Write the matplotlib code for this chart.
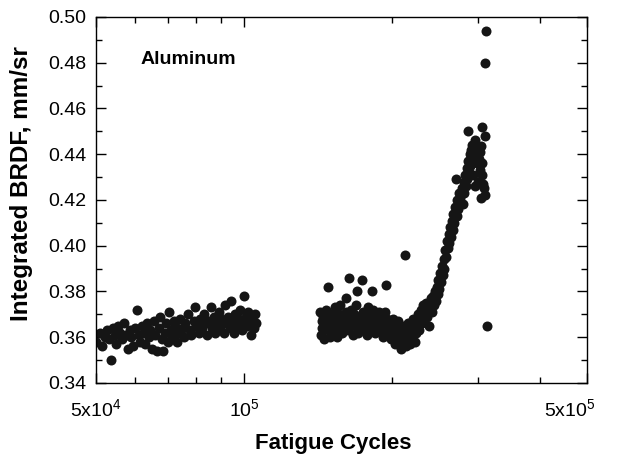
import numpy as np
import matplotlib
matplotlib.use('Agg')
import matplotlib.pyplot as plt
import matplotlib.transforms as mtransforms
from matplotlib.ticker import FixedLocator, NullFormatter

plt.rcParams['font.family'] = 'Liberation Sans'
plt.rcParams['mathtext.fontset'] = 'custom'
plt.rcParams['mathtext.rm'] = 'Liberation Sans'

# Early cycles, 5e4 to ~1.07e5 (thousands of cycles, integrated BRDF)
early_k = [50.0, 51.0, 51.5, 52.0, 52.5, 53.0, 53.5, 54.0, 54.5, 55.0, 55.5, 56.0, 56.5, 57.0,
           57.5, 58.0, 58.5, 59.0, 59.5, 60.0, 60.5, 61.0, 61.5, 62.0, 62.5, 63.0, 63.5, 64.0,
           64.5, 65.0, 65.5, 66.0, 66.5, 67.0, 67.5, 68.0, 68.5, 69.0, 69.5, 70.0, 70.5, 71.0,
           71.5, 72.0, 72.5, 73.0, 73.5, 74.0, 75.0, 75.5, 76.0, 77.0, 77.5, 78.0, 79.0, 79.5,
           80.0, 81.0, 81.5, 82.0, 83.0, 83.5, 84.0, 85.0, 85.5, 86.0, 87.0, 87.5, 88.0, 89.0,
           89.5, 90.0, 91.0, 91.5, 92.0, 93.0, 93.5, 94.0, 95.0, 95.5, 96.0, 97.0, 97.5, 98.0,
           99.0, 99.5, 100.0, 101.0, 101.5, 102.0, 103.0, 103.5, 104.0, 105.0, 105.5, 106.0]
early_brdf = [0.358, 0.362, 0.356, 0.360, 0.363, 0.359, 0.350, 0.364, 0.361, 0.357, 0.365, 0.362,
              0.359, 0.366, 0.361, 0.355, 0.363, 0.360, 0.356, 0.364, 0.372, 0.361, 0.358, 0.365,
              0.362, 0.357, 0.366, 0.360, 0.363, 0.355, 0.367, 0.361, 0.354, 0.364, 0.369, 0.359,
              0.354, 0.362, 0.366, 0.358, 0.371, 0.363, 0.360, 0.367, 0.365, 0.358, 0.362, 0.368,
              0.364, 0.360, 0.366, 0.370, 0.363, 0.361, 0.367, 0.373, 0.365, 0.362, 0.368, 0.364,
              0.370, 0.366, 0.361, 0.367, 0.373, 0.364, 0.369, 0.362, 0.366, 0.371, 0.364, 0.368,
              0.362, 0.374, 0.366, 0.369, 0.364, 0.376, 0.367, 0.362, 0.370, 0.365, 0.368, 0.372,
              0.363, 0.367, 0.378, 0.369, 0.365, 0.371, 0.366, 0.361, 0.368, 0.364, 0.370, 0.366]

# Middle cycles, ~1.43e5 to ~2.25e5
mid_k = [143, 143.5, 144, 144.5, 145, 145.5, 146, 147, 148, 148.5, 149, 150, 150.5, 151, 152,
         152.5, 153, 154, 154.5, 155, 156, 156.5, 157, 158, 158.5, 159, 160, 161, 161.5, 162,
         163, 163.5, 164, 165, 165.5, 166, 167, 167.5, 168, 169, 170, 170.5, 171, 172, 173,
         174, 174.5, 175, 176, 177, 178, 178.5, 179, 180, 181, 182, 182.5, 183, 184, 185, 186,
         187, 188, 189, 190, 191, 192, 193, 194, 195, 195.5, 196, 197, 198, 199, 200, 201, 202,
         203, 204, 205, 206, 207, 208, 209, 210, 211, 212, 213, 213.5, 214, 215, 216, 217, 218,
         219, 220, 221, 222, 223, 224, 225]
mid_brdf = [0.371, 0.361, 0.367, 0.364, 0.369, 0.359, 0.366, 0.372, 0.382, 0.363, 0.368, 0.360,
            0.370, 0.365, 0.367, 0.362, 0.373, 0.368, 0.360, 0.366, 0.370, 0.364, 0.374, 0.367,
            0.362, 0.369, 0.365, 0.377, 0.371, 0.367, 0.363, 0.369, 0.386, 0.366, 0.372, 0.368,
            0.361, 0.370, 0.365, 0.374, 0.380, 0.367, 0.362, 0.369, 0.365, 0.385, 0.371, 0.367,
            0.363, 0.369, 0.361, 0.373, 0.366, 0.370, 0.364, 0.380, 0.368, 0.372, 0.366, 0.362,
            0.369, 0.365, 0.371, 0.367, 0.363, 0.369, 0.360, 0.366, 0.371, 0.383, 0.364, 0.368,
            0.362, 0.366, 0.359, 0.364, 0.368, 0.361, 0.357, 0.365, 0.362, 0.367, 0.358, 0.363,
            0.355, 0.360, 0.365, 0.358, 0.396, 0.362, 0.356, 0.361, 0.366, 0.359, 0.357, 0.363,
            0.360, 0.368, 0.364, 0.358, 0.362, 0.366]

# Late cycles, sharp rise before failure
late_k = [226, 227, 228, 229, 230, 231, 232, 233, 234, 235, 236, 237, 238, 239, 240, 241, 242,
          243, 244, 245, 246, 247, 248, 249, 250, 251, 252, 253, 254, 255, 256, 257, 258, 259,
          260, 261, 262, 263, 264, 265, 266, 267, 268, 269, 270, 271, 272, 273, 274, 275, 276,
          278, 279, 280, 281, 282, 283, 284, 285, 286, 287, 288, 289, 290, 291, 292, 293, 294,
          295, 296, 297, 298, 299, 300, 301, 302, 303, 304, 305, 306, 307, 308, 310, 286, 305,
          309, 304, 311, 310, 312]
late_brdf = [0.370, 0.363, 0.368, 0.372, 0.366, 0.370, 0.374, 0.368, 0.372, 0.375, 0.369, 0.373,
             0.365, 0.374, 0.377, 0.371, 0.375, 0.378, 0.374, 0.380, 0.376, 0.382, 0.379, 0.385,
             0.381, 0.388, 0.384, 0.391, 0.387, 0.394, 0.390, 0.398, 0.395, 0.402, 0.399, 0.405,
             0.401, 0.408, 0.404, 0.411, 0.407, 0.414, 0.410, 0.417, 0.429, 0.413, 0.420, 0.416,
             0.423, 0.419, 0.421, 0.425, 0.418, 0.428, 0.423, 0.431, 0.426, 0.434, 0.429, 0.437,
             0.432, 0.440, 0.435, 0.442, 0.438, 0.444, 0.431, 0.439, 0.446, 0.426, 0.441, 0.436,
             0.443, 0.428, 0.438, 0.433, 0.441, 0.421, 0.436, 0.431, 0.427, 0.425, 0.422, 0.450,
             0.452, 0.448, 0.4435, 0.494, 0.480, 0.365]

cycles = np.array(early_k + mid_k + late_k) * 1000
brdf = np.array(early_brdf + mid_brdf + late_brdf)

fig, ax = plt.subplots(figsize=(6.41, 4.58), dpi=100)
fig.subplots_adjust(left=0.150, right=0.916, top=0.963, bottom=0.164)

ax.plot(cycles, brdf, 'o', color='#151515', markersize=7.2, markeredgewidth=0)

ax.set_xscale('log')
ax.set_xlim(5e4, 5e5)
ax.set_ylim(0.34, 0.50)

ax.xaxis.set_major_locator(FixedLocator([5e4, 1e5, 5e5]))
ax.set_xticklabels([r'5x10$^4$', r'10$^5$', r'5x10$^5$'])
ax.xaxis.set_minor_locator(FixedLocator([6e4, 7e4, 8e4, 9e4, 2e5, 3e5, 4e5]))
ax.xaxis.set_minor_formatter(NullFormatter())

ax.set_yticks(np.arange(0.34, 0.501, 0.02))
ax.set_yticks(np.arange(0.35, 0.50, 0.02), minor=True)
ax.yaxis.set_major_formatter(plt.FormatStrFormatter('%.2f'))

ax.tick_params(which='both', direction='in', top=True, right=True, labelsize=14, width=1.0)
ax.tick_params(which='major', length=7)
ax.tick_params(which='minor', length=4)
ax.tick_params(axis='x', pad=11)
ax.tick_params(axis='y', pad=7)
for s in ax.spines.values():
    s.set_linewidth(1.0)

# last x label sits left of its tick
last = ax.get_xticklabels()[-1]
last.set_horizontalalignment('right')
last.set_transform(last.get_transform() + mtransforms.ScaledTranslation(6 / 72, 0, fig.dpi_scale_trans))

ax.set_xlabel('Fatigue Cycles', fontsize=16, fontweight='bold')
ax.xaxis.set_label_coords(0.483, -0.137)
ax.set_ylabel('Integrated BRDF, mm/sr', fontsize=17.5, fontweight='bold')
ax.yaxis.set_label_coords(-0.128, 0.544)
ax.text(0.09, 0.872, 'Aluminum', transform=ax.transAxes, fontsize=14, fontweight='bold',
        va='baseline')

plt.savefig('out.png', dpi=100)
